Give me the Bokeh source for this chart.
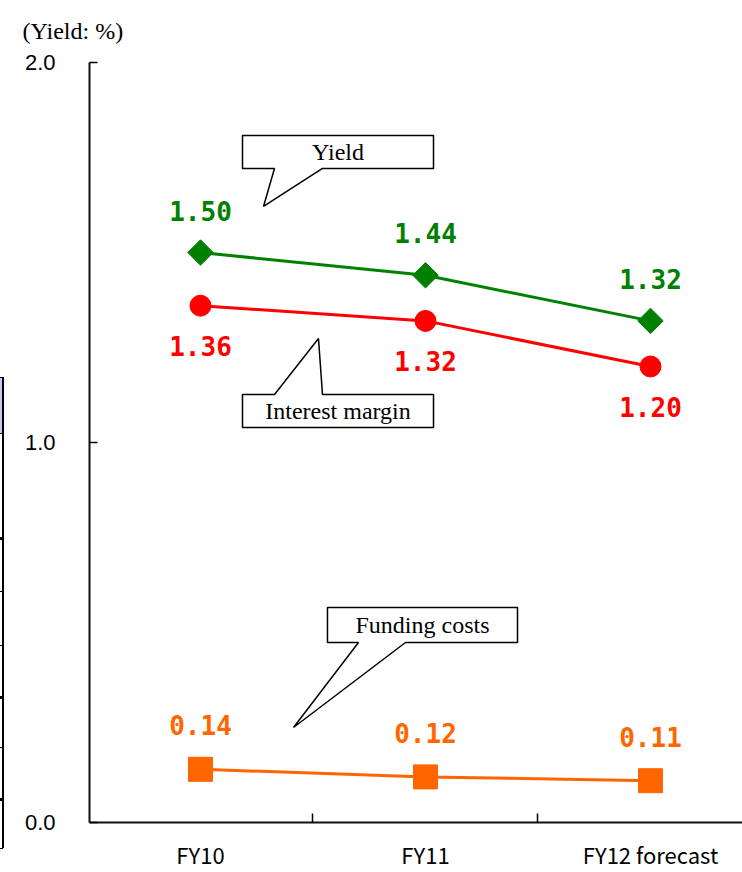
import numpy as np
from bokeh.plotting import figure
from bokeh.layouts import row
from bokeh.models import ColumnDataSource, Range1d, FixedTicker, Div
from bokeh.core.properties import value
from bokeh.embed import file_html
from bokeh.resources import INLINE

# ---- data -------------------------------------------------------------
categories = ["FY10", "FY11", "FY12 forecast"]
yield_pct = [1.50, 1.44, 1.32]
interest_margin = [1.36, 1.32, 1.20]
funding_costs = [0.14, 0.12, 0.11]
y_ticks = [0.0, 1.0, 2.0]
y_tick_labels = ["0.0", "1.0", "2.0"]

GREEN = "#008000"
RED = "#FF0000"
ORANGE = "#FF6600"

xs = list(range(len(categories)))

# ---- thin strip on the far left: edge of a neighbouring table ----------
STRIP_W = 8


def _box(top, height, width=3, left=0, color="black"):
    return (f'<div style="position:absolute;left:{left}px;top:{top}px;'
            f'width:{width}px;height:{height}px;background:{color}"></div>')


strip_html = ['<div style="position:relative;width:8px;height:872px;'
              'margin:0;padding:0;overflow:hidden">']
strip_html.append(_box(377, 56, color="#c8c8f0"))
strip_html.append(_box(377, 471, width=1.5, left=2))
for yy in [377, 433, 591, 645, 747, 848]:
    strip_html.append(_box(yy, 1.2))
for yy in [537, 696, 798]:
    strip_html.append(_box(yy, 3))
strip_html.append('</div>')
strip = Div(text="".join(strip_html), width=STRIP_W, height=872,
            margin=(0, 0, 0, 0))

# ---- main chart -------------------------------------------------------
p = figure(width=742 - STRIP_W, height=872,
           x_range=Range1d(-0.4933, 2.4089), y_range=Range1d(0, 2),
           output_backend="svg", toolbar_location=None,
           min_border_left=89 - STRIP_W, min_border_right=0,
           min_border_top=62, min_border_bottom=50)
p.outline_line_color = None
p.grid.visible = False
p.background_fill_color = "white"
p.border_fill_color = "white"

# unit note above the y axis
p.title.text = "(Yield: %)"
p.title.text_font = "Liberation Serif"
p.title.text_font_size = "24px"
p.title.text_font_style = "normal"
p.title.text_color = "black"
p.title.align = "left"
p.title.vertical_align = "top"
p.title.offset = -67
p.title.standoff = 34

# x axis: labels at category centres, tick marks between categories
xa = p.xaxis[0]
xa.ticker = FixedTicker(ticks=xs, minor_ticks=[0.5, 1.5])
xa.major_label_overrides = {i: c for i, c in zip(xs, categories)}
xa.major_tick_line_color = None
xa.major_tick_out = 0
xa.major_tick_in = 0
xa.minor_tick_in = 9
xa.minor_tick_out = 0
xa.minor_tick_line_color = "black"
xa.minor_tick_line_width = 1.5
xa.axis_line_width = 2
xa.axis_line_color = "#111111"
xa.major_label_text_font = "Noto Sans CJK JP"
xa.major_label_text_font_size = "22px"
xa.major_label_text_line_height = 1.0
xa.major_label_text_color = "black"
xa.major_label_standoff = 15

# y axis
ya = p.yaxis[0]
ya.ticker = FixedTicker(ticks=y_ticks, minor_ticks=[])
ya.major_label_overrides = {t: s for t, s in zip(y_ticks, y_tick_labels)}
ya.major_tick_in = 8
ya.major_tick_out = 0
ya.major_tick_line_width = 1.5
ya.axis_line_width = 2
ya.axis_line_color = "#111111"
ya.major_label_text_font = "Liberation Sans"
ya.major_label_text_font_size = "22px"
ya.major_label_text_color = "black"
ya.major_label_standoff = 34

# ---- series -----------------------------------------------------------
src = ColumnDataSource(dict(
    x=xs, yld=yield_pct, im=interest_margin, fc=funding_costs,
    yld_t=[f"{v:.2f}" for v in yield_pct],
    im_t=[f"{v:.2f}" for v in interest_margin],
    fc_t=[f"{v:.2f}" for v in funding_costs],
))

p.line("x", "yld", source=src, line_color=GREEN, line_width=3)
p.scatter("x", "yld", source=src, marker="square", angle=np.pi / 4,
          size=18, fill_color=GREEN, line_color=GREEN)

p.line("x", "im", source=src, line_color=RED, line_width=3)
p.scatter("x", "im", source=src, marker="circle", size=21,
          fill_color=RED, line_color=RED)

p.line("x", "fc", source=src, line_color=ORANGE, line_width=3)
p.scatter("x", "fc", source=src, marker="square", size=24,
          fill_color=ORANGE, line_color=ORANGE)

label_font = value("DejaVu Sans Mono")
p.text("x", "yld", text="yld_t", source=src, y_offset=-42,
       text_align="center", text_baseline="middle", text_color=GREEN,
       text_font=label_font, text_font_style="bold", text_font_size="26px")
p.text("x", "im", text="im_t", source=src, y_offset=40,
       text_align="center", text_baseline="middle", text_color=RED,
       text_font=label_font, text_font_style="bold", text_font_size="26px")
p.text("x", "fc", text="fc_t", source=src, y_offset=-44,
       text_align="center", text_baseline="middle", text_color=ORANGE,
       text_font=label_font, text_font_style="bold", text_font_size="26px")


# ---- callouts ---------------------------------------------------------
def callout(text, x0, x1, y0, y1, b0, b1, tip, below=True):
    """Rectangular speech bubble with a pointer from its bottom or top edge."""
    tx, ty = tip
    if below:
        px = [x0, x1, x1, b1, tx, b0, x0]
        py = [y1, y1, y0, y0, ty, y0, y0]
    else:
        px = [x0, b0, tx, b1, x1, x1, x0]
        py = [y1, y1, ty, y1, y1, y0, y0]
    p.patch(px, py, fill_color="white", line_color="black", line_width=1.5)
    p.text([(x0 + x1) / 2], [(y0 + y1) / 2], text=[text],
           text_align="center", text_baseline="middle",
           text_font=value("Liberation Serif"), text_font_size="24px",
           text_color="black")


callout("Yield", 0.1867, 1.0356, 1.7211, 1.8079, 0.3289, 0.5422,
        (0.28, 1.6211), below=True)
callout("Interest margin", 0.1867, 1.0356, 1.0395, 1.1263, 0.3289, 0.5422,
        (0.5244, 1.2737), below=False)
callout("Funding costs", 0.5644, 1.4089, 0.4737, 0.5658, 0.7022, 0.9111,
        (0.4133, 0.25), below=True)

layout = row(strip, p, spacing=0)
open("out.html", "w").write(file_html(layout, INLINE))
